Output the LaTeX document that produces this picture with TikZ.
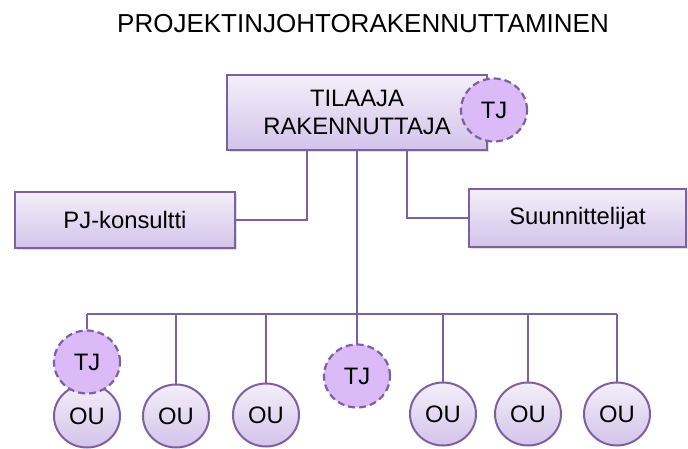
\documentclass[tikz,border=0pt]{standalone}
\usepackage{fontspec}
\setmainfont{Liberation Sans}
\usetikzlibrary{shapes.geometric,shadows}
\definecolor{edge}{HTML}{7E5FA2}
\definecolor{boxtop}{HTML}{F3EFF9}
\definecolor{boxbot}{HTML}{D3C3EA}
\definecolor{tjfill}{HTML}{DBBAF7}
\tikzset{
  txt/.style={font=\fontsize{23.8bp}{28bp}\selectfont, text=black},
  box/.style={txt, draw=edge, line width=2bp, top color=boxtop, bottom color=boxbot,
    align=center, inner sep=0pt,
    drop shadow={opacity=0.25, shadow xshift=2bp, shadow yshift=-2.5bp}},
  unit/.style={txt, ellipse, draw=edge, line width=2bp, top color=boxtop, bottom color=boxbot,
    minimum width=66bp, minimum height=63bp, inner sep=0pt},
  lead/.style={txt, ellipse, draw=edge, line width=2.2bp, dash pattern=on 7bp off 4bp,
    fill=tjfill, minimum width=66bp, minimum height=63bp, inner sep=0pt},
  conn/.style={draw=edge, line width=2.6bp}
}
\begin{document}
\begin{tikzpicture}[x=1bp, y=-1bp]
  \useasboundingbox (0,0) rectangle (688,449);

  % title
  \node[font=\fontsize{26bp}{30bp}\selectfont, anchor=base] (title) at (363,33) {PROJEKTINJOHTORAKENNUTTAMINEN};

  % upper level
  \node[box, minimum width=260bp, minimum height=75bp] (top) at (357,112.5) {TILAAJA\\RAKENNUTTAJA};
  \node[box, minimum width=220bp, minimum height=56bp] (pj) at (125,220) {PJ-konsultti};
  \node[box, minimum width=217bp, minimum height=58bp] (su) at (577.5,218) {Suunnittelijat};

  % site organisations
  \node[unit] (ou1) at (87,416) {OU};
  \node[unit] (ou2) at (176,416) {OU};
  \node[unit] (ou3) at (266,415) {OU};
  \node[unit] (ou4) at (443,414) {OU};
  \node[unit] (ou5) at (528,414) {OU};
  \node[unit] (ou6) at (617,414) {OU};
  \coordinate (bus) at (357,314);

  % connectors
  \draw[conn] ([xshift=-50bp]top.south) |- (pj.east);
  \draw[conn] ([xshift=50bp]top.south) |- (su.west);
  \draw[conn] (top.south) -- (357,345);
  \draw[conn] (87,329 |- bus) -- (ou6.north |- bus);
  \draw[conn] (ou2.north |- bus) -- (ou2.north);
  \draw[conn] (ou3.north |- bus) -- (ou3.north);
  \draw[conn] (ou4.north |- bus) -- (ou4.north);
  \draw[conn] (ou5.north |- bus) -- (ou5.north);
  \draw[conn] (ou6.north |- bus) -- (ou6.north);

  % site managers
  \node[lead] (tjl) at (87,362) {TJ};
  \draw[conn] (tjl.north |- bus) -- (tjl.north);
  \node[lead] (tjm) at (357,376) {TJ};
  \node[lead] (tjt) at (494,110) {TJ};
\end{tikzpicture}
\end{document}
